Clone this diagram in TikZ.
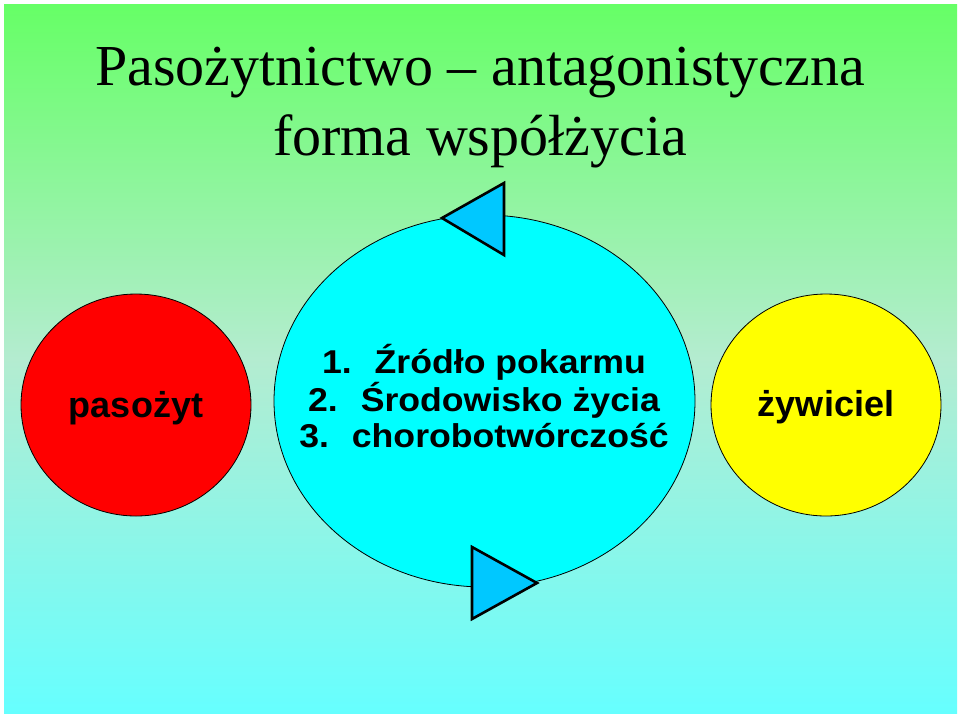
\documentclass[tikz,border=0pt]{standalone}
\usepackage{fontspec}
\setmainfont{Liberation Serif}
\newfontfamily\bodyfont[FakeStretch=1.08]{Liberation Sans}
\newfontfamily\labelfont{Liberation Sans}
\usetikzlibrary{shapes.geometric}
\definecolor{bgtop}{RGB}{102,255,102}
\definecolor{bgmid}{RGB}{180,236,208}
\definecolor{bgbot}{RGB}{102,255,255}
\definecolor{triblue}{RGB}{0,200,255}
\definecolor{cyanfill}{RGB}{0,255,255}
\definecolor{redfill}{RGB}{255,0,0}
\definecolor{yellowfill}{RGB}{255,255,0}
\begin{document}
\begin{tikzpicture}[x=1pt,y=-1pt,
  blob/.style={ellipse, draw=black, line width=0.8pt, inner sep=0pt},
  tri/.style={draw=black, line width=2.6pt, fill=triblue, line join=miter},
  titletext/.style={anchor=base, inner sep=0pt, font=\fontsize{58}{70}\selectfont},
  bodytext/.style={anchor=base, inner sep=0pt, font=\bodyfont\bfseries\fontsize{33}{37.5}\selectfont},
  labeltext/.style={anchor=base, inner sep=0pt, font=\labelfont\bfseries\fontsize{36}{42}\selectfont}]
\useasboundingbox (0,0) rectangle (960,716);
\fill[white] (0,0) rectangle (960,716);
\shade[top color=bgtop, bottom color=bgbot, middle color=bgmid] (4,4) rectangle (957,713);
% title
\node[titletext] (t1) at (480,85) {Pasożytnictwo – antagonistyczna};
\node[titletext] (t2) at (480,155) {forma współżycia};
% shapes
\node[blob, fill=redfill, minimum width=230pt, minimum height=222pt] (red) at (136,405) {};
\node[blob, fill=yellowfill, minimum width=230pt, minimum height=222pt] (yellow) at (826,405) {};
\node[blob, fill=cyanfill, minimum width=421pt, minimum height=372pt] (cyan) at (484.5,401) {};
% triangles
\draw[tri] (442,218) -- (504,183) -- (504,255) -- cycle;
\draw[tri] (472,547) -- (537,583) -- (472,619) -- cycle;
% texts
\node[labeltext] (l1) at (136,417) {pasożyt};
\node[labeltext] (l2) at (826,416) {żywiciel};
\node[bodytext] (b1) at (484,373) {1.\ \hspace{13pt}Źródło pokarmu};
\node[bodytext] (b2) at (484,411) {2.\ \hspace{13pt}Środowisko życia};
\node[bodytext] (b3) at (484,447) {3.\ \hspace{13pt}chorobotwórczość};
\end{tikzpicture}
\end{document}
